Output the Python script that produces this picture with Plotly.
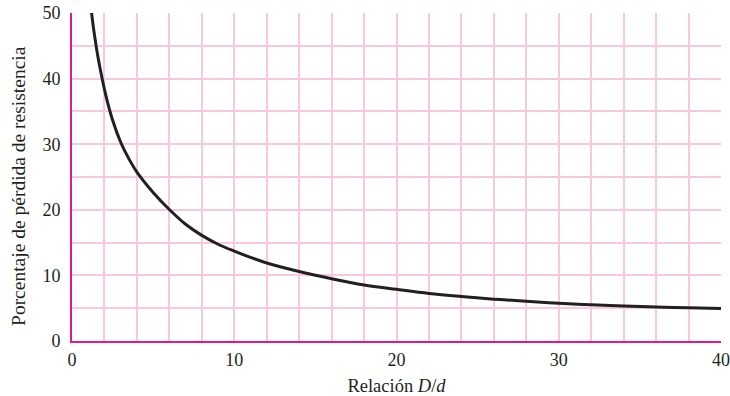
import plotly.graph_objects as go

ratio_Dd = [1.12, 1.21, 1.4, 1.6, 1.85, 2.1, 2.5, 3.0, 3.5, 4.0, 5.0, 6.0, 7.0, 8, 9, 10,
            11, 12, 14, 16, 18, 20, 22, 24, 26, 28, 30, 32, 34, 36, 38, 40]
strength_loss_pct = [53.0, 50, 46.4, 43.3, 40.1, 37.3, 33.7, 30.3, 27.8, 25.75, 22.65, 20.05,
                     17.8, 16.1, 14.75, 13.7, 12.75, 11.9, 10.6, 9.5, 8.55, 7.88, 7.25, 6.78,
                     6.38, 6.06, 5.76, 5.52, 5.33, 5.18, 5.05, 4.95]

x_title = "Relación <i>D</i>/<i>d</i>"
y_title = "Porcentaje de pérdida de resistencia"

axis_col = "#e5178b"
grid_col = "#f9c8dd"
text_col = "#231f20"
font_fam = "Liberation Serif, Times New Roman, serif"

fig = go.Figure()
fig.add_trace(go.Scatter(
    x=ratio_Dd, y=strength_loss_pct, mode="lines",
    line=dict(color="#231f20", width=3, shape="spline", smoothing=1.0),
    hoverinfo="skip", showlegend=False, cliponaxis=True,
))

fig.update_layout(
    width=730, height=396,
    margin=dict(l=72, r=9, t=13, b=55, autoexpand=False),
    paper_bgcolor="white", plot_bgcolor="white",
    font=dict(family=font_fam, size=18, color=text_col),
    xaxis=dict(
        range=[0, 40], dtick=10, tick0=0, automargin=False,
        showgrid=True, gridcolor=grid_col, gridwidth=1.5,
        minor=dict(dtick=2, showgrid=True, gridcolor=grid_col, gridwidth=1.5),
        showline=True, linecolor=axis_col, linewidth=2,
        zeroline=False, ticks="", ticklabelstandoff=1,
        title=dict(text=x_title, font=dict(size=18.5), standoff=10),
    ),
    yaxis=dict(
        range=[0, 50], dtick=10, tick0=0, automargin=False,
        showgrid=True, gridcolor=grid_col, gridwidth=1.5,
        minor=dict(dtick=5, showgrid=True, gridcolor=grid_col, gridwidth=1.5),
        showline=True, linecolor=axis_col, linewidth=2,
        zeroline=False, ticks="", ticklabelstandoff=6,
    ),
    annotations=[dict(
        text=y_title, textangle=-90, showarrow=False,
        xref="paper", yref="paper", x=-0.0817, y=0.4726,
        xanchor="center", yanchor="middle",
        font=dict(size=19.5, family=font_fam, color=text_col),
    )],
)

fig.write_html("out.html", config={"displayModeBar": False},
               post_script="document.body.style.margin='0';document.body.style.overflow='hidden';")
